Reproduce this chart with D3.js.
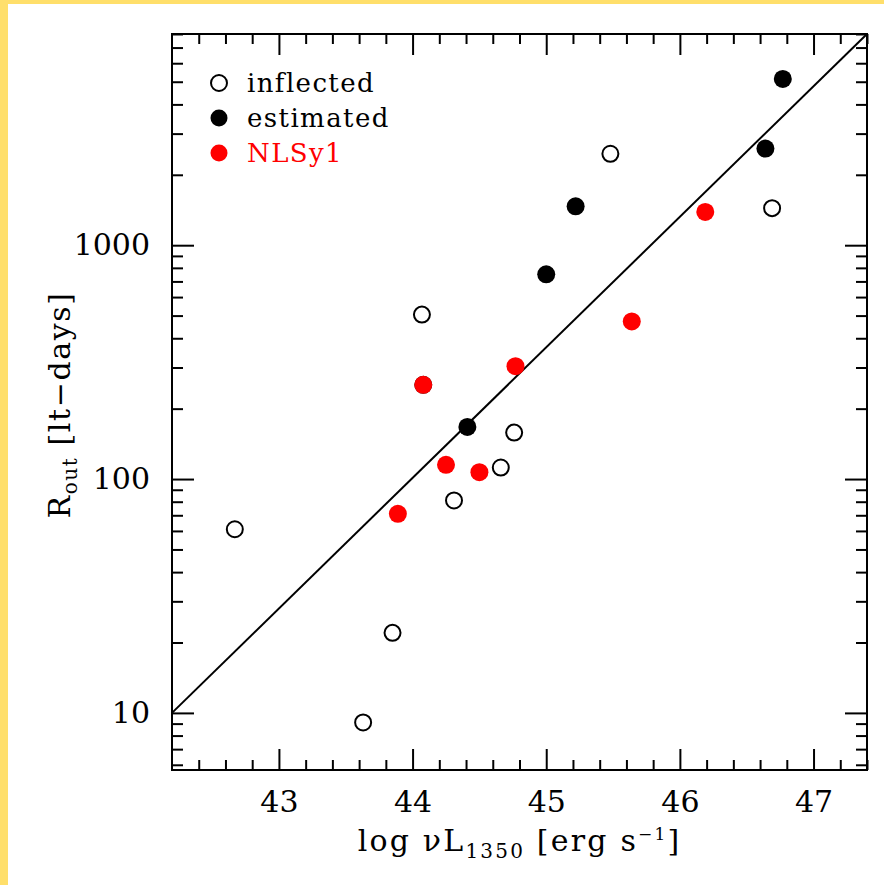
<!DOCTYPE html>
<html>
<head>
<meta charset="utf-8">
<script src="https://cdn.jsdelivr.net/npm/d3@7"></script>
<style>
  body { margin: 0; background: #fff; }
  .axis path { display: none; }
  .axis line { stroke: #000; stroke-width: 2px; }
  .axis text { font-family: "DejaVu Serif", serif; font-size: 30px; fill: #000; }
</style>
</head>
<body>
<div id="chart"></div>
<script>
// data
const inflectedX = [42.67, 43.63, 43.85, 44.07, 44.08, 44.31, 44.66, 44.76, 45.48, 46.69];
const inflectedY = [61, 9.1, 22, 505, 253, 81, 112, 158, 2460, 1440];
const estimatedX = [44.41, 45.00, 45.22, 46.64, 46.77];
const estimatedY = [167, 751, 1466, 2590, 5140];
const nlsX = [43.89, 44.08, 44.25, 44.50, 44.77, 45.64, 46.19];
const nlsY = [71, 253, 115, 107, 304, 472, 1387];
const fitX = [42.2, 47.4];
const fitY = [10, 8000];
const xMajor = [43, 44, 45, 46, 47];
const xMinor = [42.4, 42.6, 42.8, 43.2, 43.4, 43.6, 43.8, 44.2, 44.4, 44.6, 44.8,
  45.2, 45.4, 45.6, 45.8, 46.2, 46.4, 46.6, 46.8, 47.2, 47.4];
const yMajor = [10, 100, 1000];
const yMinor = [6, 7, 8, 9, 20, 30, 40, 50, 60, 70, 80, 90,
  200, 300, 400, 500, 600, 700, 800, 900, 2000, 3000, 4000, 5000, 6000, 7000, 8000];
const legendNames = ["inflected", "estimated", "NLSy1"];

const W = 884, H = 885;
const margin = {top: 34, right: 17, bottom: 115, left: 172};
const width = W - margin.left - margin.right,
      height = H - margin.top - margin.bottom;

const root = d3.select("#chart").append("svg")
    .attr("width", W).attr("height", H);

// yellow page border
root.append("rect").attr("x", 0).attr("y", 0).attr("width", W).attr("height", 4).attr("fill", "#ffdf6b");
root.append("rect").attr("x", 0).attr("y", 0).attr("width", 8).attr("height", H).attr("fill", "#ffdf6b");

const svg = root.append("g")
    .attr("transform", "translate(" + margin.left + "," + margin.top + ")");

const x = d3.scaleLinear().domain([42.2, 47.4]).range([0, width]);
const y = d3.scaleLog().domain([5.7, 8000]).range([height, 0]);

// axes, ticks pointing inward on all four sides
function addAxis(fn, scale, vals, size, tr, labels, pad) {
    const g = svg.append("g").attr("class", "axis").attr("transform", tr);
    const a = fn(scale).tickValues(vals).tickSize(-size).tickPadding(pad || 21);
    if (labels) a.tickFormat(d3.format("d")); else a.tickFormat("");
    g.call(a);
    return g;
}
addAxis(d3.axisBottom, x, xMinor, 10, "translate(0," + height + ")", false);
addAxis(d3.axisBottom, x, xMajor, 21, "translate(0," + height + ")", true, 21);
addAxis(d3.axisTop, x, xMinor, 10, "translate(0,0)", false);
addAxis(d3.axisTop, x, xMajor, 21, "translate(0,0)", false);
addAxis(d3.axisLeft, y, yMinor, 11, "translate(0,0)", false);
addAxis(d3.axisLeft, y, yMajor, 22, "translate(0,0)", true, 22);
addAxis(d3.axisRight, y, yMinor, 11, "translate(" + width + ",0)", false);
addAxis(d3.axisRight, y, yMajor, 22, "translate(" + width + ",0)", false);

svg.append("rect")
    .attr("width", width).attr("height", height)
    .attr("fill", "none").attr("stroke", "#000").attr("stroke-width", 2);

// fit line
const line = d3.line().x(d => x(d[0])).y(d => y(d[1]));
svg.append("path")
    .datum(d3.zip(fitX, fitY))
    .attr("d", line)
    .attr("fill", "none").attr("stroke", "#000").attr("stroke-width", 2);

// points
svg.selectAll(".inf").data(d3.zip(inflectedX, inflectedY)).enter().append("circle")
    .attr("cx", d => x(d[0])).attr("cy", d => y(d[1])).attr("r", 8)
    .attr("fill", "#fff").attr("stroke", "#000").attr("stroke-width", 2);
svg.selectAll(".est").data(d3.zip(estimatedX, estimatedY)).enter().append("circle")
    .attr("cx", d => x(d[0])).attr("cy", d => y(d[1])).attr("r", 9)
    .attr("fill", "#000");
svg.selectAll(".nls").data(d3.zip(nlsX, nlsY)).enter().append("circle")
    .attr("cx", d => x(d[0])).attr("cy", d => y(d[1])).attr("r", 9)
    .attr("fill", "#ff0000");

// legend
const leg = svg.append("g").attr("transform", "translate(47,49)");
legendNames.forEach((name, i) => {
    const row = leg.append("g").attr("transform", "translate(0," + (i * 35) + ")");
    const c = row.append("circle").attr("r", i === 0 ? 8 : 8.5);
    if (i === 0) c.attr("fill", "#fff").attr("stroke", "#000").attr("stroke-width", 2);
    else c.attr("fill", i === 1 ? "#000" : "#ff0000");
    row.append("text")
        .attr("x", 28).attr("y", 9)
        .attr("font-family", "DejaVu Serif, serif")
        .attr("font-size", "26px")
        .attr("letter-spacing", "1.4px")
        .attr("fill", i === 2 ? "#ff0000" : "#000")
        .text(name);
});

// axis titles
const xt = root.append("text")
    .attr("x", margin.left + width / 2).attr("y", 851)
    .attr("text-anchor", "middle")
    .attr("font-family", "DejaVu Serif, serif")
    .attr("font-size", "30px")
    .attr("letter-spacing", "2.2px");
xt.append("tspan").text("log \u03BDL");
xt.append("tspan").attr("font-size", "20px").attr("dy", 7).text("1350");
xt.append("tspan").attr("dy", -7).text(" [erg s");
xt.append("tspan").attr("font-size", "17px").attr("dy", -11).text("\u22121");
xt.append("tspan").attr("dy", 11).text("]");

const yt = root.append("text")
    .attr("transform", "translate(70,405) rotate(-90)")
    .attr("text-anchor", "middle")
    .attr("font-family", "DejaVu Serif, serif")
    .attr("font-size", "30px")
    .attr("letter-spacing", "1.6px");
yt.append("tspan").text("R");
yt.append("tspan").attr("font-size", "20px").attr("dy", 7).text("out");
yt.append("tspan").attr("dy", -7).text("  [lt\u2212days]");
</script>
</body>
</html>
